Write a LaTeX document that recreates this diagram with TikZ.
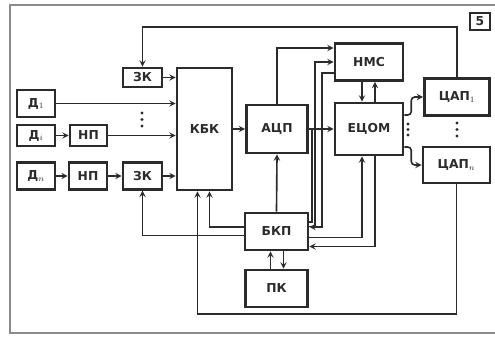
\documentclass[tikz,border=0pt]{standalone}
\usepackage{fontspec}
\setmainfont{DejaVu Sans}
\usepackage{tikz}
\usetikzlibrary{arrows, positioning, calc}
\definecolor{tinta}{HTML}{2B2B2B}
\definecolor{marco}{HTML}{8A8A8A}
\tikzset{
  bloque/.style={rectangle, draw=tinta, line width=2.2pt, fill=white, text=tinta,
                 font=\fontsize{10.5}{12}\selectfont\bfseries, align=center, inner sep=1pt},
  flecha/.style={line width=1.4pt, ->, >=stealth, color=tinta},
  linea/.style={line width=1.4pt, color=tinta},
  punto/.style={circle, fill=tinta, inner sep=0pt, minimum size=2.6pt}
}

\begin{document}
\begin{tikzpicture}[x=0.03cm, y=-0.03cm]
  \useasboundingbox (0,0) rectangle (495,337);
  \draw [marco, line width=1pt] (495,5) -- (10,5) -- (10,333) -- (495,333);
  \node (num) [bloque, line width=1.2pt, minimum width=0.6cm, minimum height=0.5cm] at (480,21.5) {5};
  % sensores y entradas
  \node (d1) [bloque, minimum width=1.14cm, minimum height=0.8cm] at (36,103.5) {Д$_1$};
  \node (di) [bloque, minimum width=1.14cm, minimum height=0.63cm] at (36,135.5) {Д$_i$};
  \node (dn) [bloque, minimum width=1.14cm, minimum height=0.8cm] at (36,176) {Д$_n$};
  \node (npi) [bloque, minimum width=1.11cm, minimum height=0.63cm] at (88.5,135.5) {НП};
  \node (npn) [bloque, minimum width=1.14cm, minimum height=0.8cm] at (88,176) {НП};
  \node (zk1) [bloque, minimum width=1.17cm, minimum height=0.57cm] at (142.5,77.5) {ЗК};
  \node (zk2) [bloque, minimum width=1.17cm, minimum height=0.8cm] at (142.5,176) {ЗК};
  \node (kbk) [bloque, minimum width=1.65cm, minimum height=3.66cm] at (204.5,129) {КБК};
  \node (acp) [bloque, minimum width=1.83cm, minimum height=1.44cm] at (277,129) {АЦП};
  \node (nms) [bloque, minimum width=2.04cm, minimum height=1.11cm] at (369,62) {НМС};
  \node (ecom) [bloque, minimum width=2.04cm, minimum height=1.56cm] at (369,129) {ЕЦОМ};
  \node (cap1) [bloque, minimum width=1.95cm, minimum height=1.11cm] at (457,97) {ЦАП$_1$};
  \node (capn) [bloque, minimum width=2.01cm, minimum height=1.08cm] at (456.5,165) {ЦАП$_n$};
  \node (bkp) [bloque, minimum width=1.89cm, minimum height=1.11cm] at (276.5,231.5) {БКП};
  \node (pk) [bloque, minimum width=1.86cm, minimum height=1.11cm] at (276.5,288.5) {ПК};
  % entradas al conmutador
  \draw [flecha] (cap1.north) -- ++(0,-50) -| (zk1.north);
  \draw [flecha] (zk1.east) -- (zk1.east -| kbk.west);
  \draw [flecha] (d1.east) -- (d1.east -| kbk.west);
  \draw [flecha] (di.east) -- (npi.west);
  \draw [flecha] (npi.east) -- (npi.east -| kbk.west);
  \draw [flecha] (dn.east) -- (npn.west);
  \draw [flecha] (npn.east) -- (zk2.west);
  \draw [flecha] (zk2.east) -- (zk2.east -| kbk.west);
  \foreach \y in {113,119.5,126} \node [punto] at (142,\y) {};
  % cadena principal
  \draw [flecha] (kbk.east |- acp.west) -- (acp.west);
  \draw [flecha] (acp.east) -- (ecom.west);
  \draw [flecha] (acp.north) |- ($(nms.west)+(0,-14)$);
  \draw [linea] ($(bkp.east)+(0,-9.5)$) -| ($(acp.east)+(3,0)$);
  \draw [flecha] ($(bkp.east)+(0,-5)$) -| ($(nms.west)+(-19,0)$) -- (nms.west);
  \draw [flecha] ($(nms.west)+(0,11)$) -- ++(-12,0) |- ($(bkp.east)+(0,-4.5)$);
  \draw [flecha] ($(nms.south)+(-7,0)$) -- ($(ecom.north)+(-7,0)$);
  \draw [flecha] ($(ecom.north)+(6,0)$) -- ($(nms.south)+(6,0)$);
  \draw [flecha] ($(bkp.east)+(0,6)$) -| ($(ecom.south)+(-7,0)$);
  \draw [flecha] ($(ecom.south)+(6,0)$) |- ($(bkp.east)+(0,15)$);
  % salidas
  \draw [flecha, rounded corners=3pt] ($(ecom.east)+(0,-14)$) -- ++(7,0) |- (cap1.west);
  \draw [flecha, rounded corners=3pt] ($(ecom.east)+(0,18)$) -- ++(7,0) |- (capn.west);
  \foreach \y in {124,129.5,135} \node [punto] at (408,\y) {};
  \foreach \y in {123,129.5,136} \node [punto] at (457,\y) {};
  % control
  \draw [flecha] (bkp.north) -- (acp.south);
  \draw [flecha] (capn.south) -- ++(0,130) -| ($(kbk.south)+(-7,0)$);
  \draw [flecha] ($(bkp.west)+(0,-4.5)$) -| ($(kbk.south)+(5,0)$);
  \draw [flecha] ($(bkp.west)+(0,4)$) -| (zk2.south);
  \draw [flecha] ($(pk.north)+(-6,0)$) -- ($(bkp.south)+(-6,0)$);
  \draw [flecha] ($(bkp.south)+(7,0)$) -- ($(pk.north)+(7,0)$);
\end{tikzpicture}
\end{document}
